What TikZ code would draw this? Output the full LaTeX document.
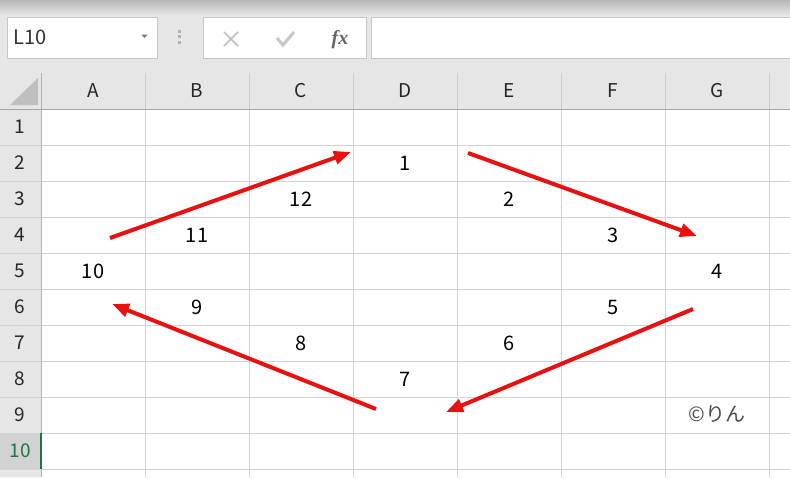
\documentclass[tikz,border=0pt]{standalone}
\usepackage{fontspec}
\setmainfont{Noto Sans CJK JP}
\newfontfamily\fxfont{Liberation Serif}
\usetikzlibrary{arrows.meta,positioning}

\definecolor{hdrgray}{HTML}{E6E6E6}
\definecolor{gridgray}{HTML}{D4D4D4}
\definecolor{selgray}{HTML}{D2D2D2}
\definecolor{selgreen}{HTML}{217346}
\definecolor{arrowred}{HTML}{E81010}

\begin{document}
\begin{tikzpicture}[x=1pt, y=-1pt,
    cell/.style={font=\fontsize{20}{20}\selectfont, text=black, inner sep=0pt},
    hdr/.style={font=\fontsize{19}{19}\selectfont, text=black!85, inner sep=0pt},
    fbox/.style={rectangle, draw=black!22, fill=white, line width=0.8pt, inner sep=0pt},
    arrow/.style={-{Triangle[length=17pt,width=13pt]}, line width=4pt, arrowred},
    gridline/.style={gridgray, line width=0.8pt}
]
\useasboundingbox (0,0) rectangle (790,477);

% Window background
\fill[hdrgray] (0,0) rectangle (790,477);
\shade[top color=black!28, bottom color=hdrgray] (0,0) rectangle (790,15);
\fill[white] (41,109) rectangle (790,477);

% Formula bar
\node[fbox, minimum width=150pt, minimum height=41pt] (namebox) at (82,37.5) {};
\node[hdr, text=black!80, font=\fontsize{20}{20}\selectfont, right=7pt of namebox.west] (cellref) {L10};
\fill[black!55] (141.5,34.5) -- (147.5,34.5) -- (144.5,38) -- cycle;
\fill[black!30] (177.5,29.5) rectangle (180.5,32.5);
\fill[black!30] (177.5,35) rectangle (180.5,38);
\fill[black!30] (177.5,40.5) rectangle (180.5,43.5);
\node[fbox, minimum width=163pt, minimum height=41pt] (fxbox) at (284.5,37.5) {};
\draw[black!25, line width=1.6pt] (224,32) -- (238,46) (238,32) -- (224,46);
\draw[black!22, line width=3pt] (277,38) -- (283,45) -- (294,32);
\node[inner sep=0pt, text=black!60, font=\fxfont\fontsize{20}{20}\selectfont\bfseries\itshape] (fx) at (340,40) {fx};
\draw[black!22, line width=0.8pt, fill=white] (371,17) rectangle (795,58);

% Column and row headers
\fill[black!25] (10,105) -- (38,105) -- (38,78) -- cycle;
\node[hdr] (colA) at (93,91) {A};
\node[hdr] (colB) at (197,91) {B};
\node[hdr] (colC) at (301,91) {C};
\node[hdr] (colD) at (405,91) {D};
\node[hdr] (colE) at (509,91) {E};
\node[hdr] (colF) at (613,91) {F};
\node[hdr] (colG) at (717,91) {G};
\fill[selgray] (0,433) rectangle (41,469);
\node[hdr] (row1) at (20,127) {1};
\node[hdr] (row2) at (20,163) {2};
\node[hdr] (row3) at (20,199) {3};
\node[hdr] (row4) at (20,235) {4};
\node[hdr] (row5) at (20,271) {5};
\node[hdr] (row6) at (20,307) {6};
\node[hdr] (row7) at (20,343) {7};
\node[hdr] (row8) at (20,379) {8};
\node[hdr] (row9) at (20,415) {9};
\node[hdr, text=selgreen] (row10) at (20,451) {10};

% Grid
\foreach \x in {145,249,...,769} {
    \draw[black!20, line width=0.8pt] (\x,73) -- (\x,109);
    \draw[gridline] (\x,109) -- (\x,477);
}
\foreach \y in {145,181,...,469} {
    \draw[gridline] (0,\y) -- (790,\y);
}
\draw[black!30, line width=0.8pt] (41,73) -- (41,477);
\draw[black!35, line width=1pt] (0,109) -- (790,109);
\draw[selgreen, line width=2pt] (41,433) -- (41,469);

% Cell values
\node[cell] (d2) at (405,163) {1};
\node[cell] (e3) at (509,199) {2};
\node[cell] (f4) at (613,235) {3};
\node[cell] (g5) at (717,271) {4};
\node[cell] (f6) at (613,307) {5};
\node[cell] (e7) at (509,343) {6};
\node[cell] (d8) at (405,379) {7};
\node[cell] (c7) at (301,343) {8};
\node[cell] (b6) at (197,307) {9};
\node[cell] (a5) at (93,271) {10};
\node[cell] (b4) at (197,235) {11};
\node[cell] (c3) at (301,199) {12};
\node[cell, text=black!70] (g9) at (717,414) {©りん};

% Arrows
\coordinate (tail1) at (110,238);
\coordinate (head1) at (351,152);
\coordinate (tail2) at (468,153);
\coordinate (head2) at (697,236);
\coordinate (tail3) at (693,309);
\coordinate (head3) at (446,412);
\coordinate (tail4) at (376,409);
\coordinate (head4) at (112,304);
\draw[arrow] (tail1) -- (head1);
\draw[arrow] (tail2) -- (head2);
\draw[arrow] (tail3) -- (head3);
\draw[arrow] (tail4) -- (head4);

\end{tikzpicture}
\end{document}
